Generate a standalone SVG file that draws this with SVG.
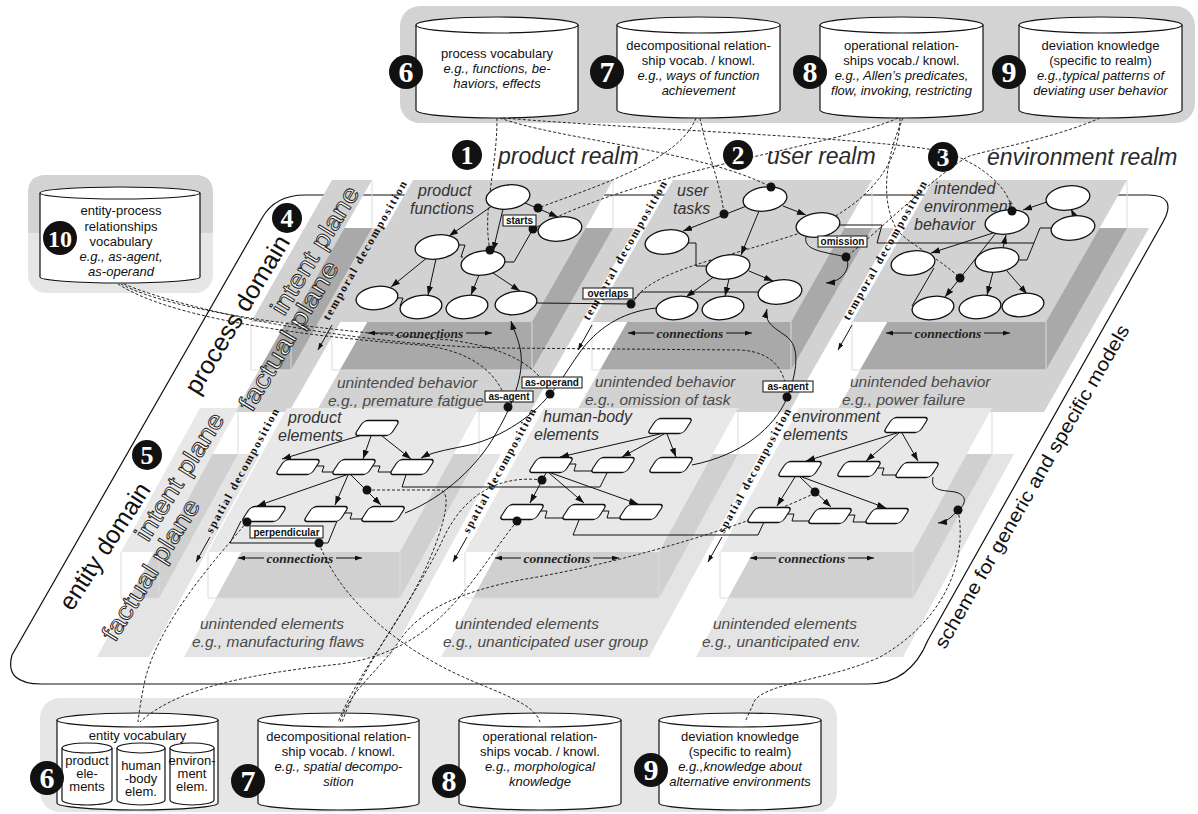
<svg xmlns="http://www.w3.org/2000/svg" width="1198" height="814" viewBox="0 0 1198 814">
<defs>
<style>
text{font-family:"Liberation Sans",Arial,sans-serif}
.ct{font-size:13px;fill:#111;text-anchor:middle}
.it{font-style:italic}
.cyl{fill:#fff;stroke:#111;stroke-width:1.2}
.bd{fill:#111}
.bn{font-family:"Liberation Serif",serif;font-weight:bold;fill:#fff;text-anchor:middle}
.realm{font-size:23px;font-style:italic;fill:#2a2a2a}
.pi{fill:#d2d2d2}
.pd{fill:#a9a9a9}
.ei{fill:#e8e8e8}
.ef{fill:#e4e4e4}
.edk{fill:#d0d0d0}
.bl{fill:none;stroke:#dcdcdc;stroke-width:1}
.sl{font-size:16px;font-style:italic;fill:#333}
.un{font-size:15.5px;font-style:italic;fill:#4a4a4a}
.td{font-family:"Liberation Serif",serif;font-weight:bold;font-size:11.5px;fill:#111}
.cn{font-family:"Liberation Serif",serif;font-weight:bold;font-style:italic;font-size:13.5px;fill:#222;text-anchor:middle}
.wl{font-size:25px;fill:#fff;stroke:#222;stroke-width:0.9}
.dom{font-size:25px;fill:#111}
.ov{fill:#fff;stroke:#111;stroke-width:1.3}
.bx{fill:#fff;stroke:#111;stroke-width:1.3}
.ln{fill:none;stroke:#111;stroke-width:1}
.ar{fill:none;stroke:#111;stroke-width:1;marker-end:url(#ah)}
.ca{fill:none;stroke:#111;stroke-width:1;marker-end:url(#sm)}
.dl{fill:none;stroke:#111;stroke-width:0.9;stroke-dasharray:3 2}
.dot{fill:#111}
.rb{fill:#fff;stroke:#111;stroke-width:1}
.rt{font-size:10px;font-weight:bold;fill:#111;text-anchor:middle}
</style>
<marker id="ah" viewBox="0 0 10 7" refX="10" refY="3.5" markerWidth="9" markerHeight="7" markerUnits="userSpaceOnUse" orient="auto"><path d="M0,0 L10,3.5 L0,7 z" fill="#111"/></marker>
<marker id="sm" viewBox="0 0 10 7" refX="10" refY="3.5" markerWidth="7" markerHeight="5" markerUnits="userSpaceOnUse" orient="auto"><path d="M0,0 L10,3.5 L0,7 z" fill="#111"/></marker>
</defs>

<!-- top knowledge bar -->
<g id="top-bar">
<rect x="400" y="6" width="795" height="117" rx="20" fill="#d3d3d3"/>
</g>
<g id="cyl-top-6">
<path class="cyl" d="M416,25 V110 A81,8 0 0 0 578,110 V25"/><ellipse class="cyl" cx="497" cy="25" rx="81" ry="8"/>
<text class="ct" x="497" y="58">process vocabulary</text>
<text class="ct it" x="497" y="73">e.g., functions, be-</text>
<text class="ct it" x="497" y="88">haviors, effects</text>
<circle class="bd" cx="406" cy="72" r="17"/><text class="bn" x="406" y="82" font-size="30">6</text>
</g>
<g id="cyl-top-7">
<path class="cyl" d="M617,25 V110 A81.5,8 0 0 0 780,110 V25"/><ellipse class="cyl" cx="698.5" cy="25" rx="81.5" ry="8"/>
<text class="ct" x="698.5" y="50">decompositional relation-</text>
<text class="ct" x="698.5" y="65">ship vocab. / knowl.</text>
<text class="ct it" x="698.5" y="80">e.g., ways of function</text>
<text class="ct it" x="698.5" y="95">achievement</text>
<circle class="bd" cx="607" cy="72" r="17"/><text class="bn" x="607" y="82" font-size="30">7</text>
</g>
<g id="cyl-top-8">
<path class="cyl" d="M820,25 V110 A81.5,8 0 0 0 983,110 V25"/><ellipse class="cyl" cx="901.5" cy="25" rx="81.5" ry="8"/>
<text class="ct" x="901.5" y="50">operational relation-</text>
<text class="ct" x="901.5" y="65">ships vocab./ knowl.</text>
<text class="ct it" x="901.5" y="80">e.g., Allen’s predicates,</text>
<text class="ct it" x="901.5" y="95">flow, invoking, restricting</text>
<circle class="bd" cx="810" cy="72" r="17"/><text class="bn" x="810" y="82" font-size="30">8</text>
</g>
<g id="cyl-top-9">
<path class="cyl" d="M1019,25 V110 A81.5,8 0 0 0 1182,110 V25"/><ellipse class="cyl" cx="1100.5" cy="25" rx="81.5" ry="8"/>
<text class="ct" x="1100.5" y="50">deviation knowledge</text>
<text class="ct" x="1100.5" y="65">(specific to realm)</text>
<text class="ct it" x="1100.5" y="80">e.g.,typical patterns of</text>
<text class="ct it" x="1100.5" y="95">deviating user behavior</text>
<circle class="bd" cx="1009" cy="72" r="17"/><text class="bn" x="1009" y="82" font-size="30">9</text>
</g>

<!-- bottom knowledge bar -->
<g id="bottom-bar">
<rect x="40" y="698" width="797" height="114" rx="20" fill="#e6e6e6"/>
</g>
<g id="cyl-bot-6">
<path class="cyl" d="M57,720 V803 A80.5,7 0 0 0 218,803 V720"/><ellipse class="cyl" cx="137.5" cy="720" rx="80.5" ry="7"/>
<text class="ct" x="137.5" y="740">entity vocabulary</text>
<path class="cyl" d="M62,748 V800 A25,5 0 0 0 112,800 V748"/><ellipse class="cyl" cx="87" cy="748" rx="25" ry="5"/>
<path class="cyl" d="M117,748 V800 A24,5 0 0 0 165,800 V748"/><ellipse class="cyl" cx="141" cy="748" rx="24" ry="5"/>
<path class="cyl" d="M170,748 V800 A22,5 0 0 0 214,800 V748"/><ellipse class="cyl" cx="192" cy="748" rx="22" ry="5"/>
<text class="ct" x="87" y="765" font-size="12">product</text><text class="ct" x="87" y="778" font-size="12">ele-</text><text class="ct" x="87" y="791" font-size="12">ments</text>
<text class="ct" x="141" y="770" font-size="12">human</text><text class="ct" x="141" y="783" font-size="12">-body</text><text class="ct" x="141" y="796" font-size="12">elem.</text>
<text class="ct" x="192" y="765" font-size="11.5">environ-</text><text class="ct" x="192" y="778" font-size="11.5">ment</text><text class="ct" x="192" y="791" font-size="11.5">elem.</text>
<circle class="bd" cx="47" cy="778" r="17"/><text class="bn" x="47" y="788" font-size="30">6</text>
</g>
<g id="cyl-bot-7">
<path class="cyl" d="M258,720 V803 A80.5,7 0 0 0 419,803 V720"/><ellipse class="cyl" cx="338.5" cy="720" rx="80.5" ry="7"/>
<text class="ct" x="338.5" y="741">decompositional relation-</text>
<text class="ct" x="338.5" y="756">ship vocab. / knowl.</text>
<text class="ct it" x="338.5" y="771">e.g., spatial decompo-</text>
<text class="ct it" x="338.5" y="786">sition</text>
<circle class="bd" cx="248" cy="781" r="17"/><text class="bn" x="248" y="791" font-size="30">7</text>
</g>
<g id="cyl-bot-8">
<path class="cyl" d="M459,720 V803 A81,7 0 0 0 621,803 V720"/><ellipse class="cyl" cx="540" cy="720" rx="81" ry="7"/>
<text class="ct" x="540" y="741">operational relation-</text>
<text class="ct" x="540" y="756">ships vocab. / knowl.</text>
<text class="ct it" x="540" y="771">e.g., morphological</text>
<text class="ct it" x="540" y="786">knowledge</text>
<circle class="bd" cx="449" cy="781" r="17"/><text class="bn" x="449" y="791" font-size="30">8</text>
</g>
<g id="cyl-bot-9">
<path class="cyl" d="M659,720 V803 A81,7 0 0 0 821,803 V720"/><ellipse class="cyl" cx="740" cy="720" rx="81" ry="7"/>
<text class="ct" x="740" y="741">deviation knowledge</text>
<text class="ct" x="740" y="756">(specific to realm)</text>
<text class="ct it" x="740" y="771">e.g.,knowledge about</text>
<text class="ct it" x="740" y="786">alternative environments</text>
<circle class="bd" cx="651" cy="770" r="17"/><text class="bn" x="651" y="780" font-size="30">9</text>
</g>

<!-- entity-process relationships vocabulary -->
<g id="cyl-10">
<rect x="28" y="175" width="185" height="118" rx="18" fill="#e6e6e6"/>
<path d="M28,233 V193 Q28,175 46,175 H195 Q213,175 213,193 V233 Z" fill="#d3d3d3"/>
<path class="cyl" d="M40,193 V277 A80,6 0 0 0 200,277 V193"/><ellipse class="cyl" cx="120" cy="193" rx="80" ry="6"/>
<text class="ct" x="121" y="215" font-size="13.5">entity-process</text>
<text class="ct" x="121" y="231" font-size="13.5">relationships</text>
<text class="ct" x="121" y="246" font-size="13.5">vocabulary</text>
<text class="ct it" x="121" y="261" font-size="13.5">e.g., as-agent,</text>
<text class="ct it" x="121" y="276" font-size="13.5">as-operand</text>
<circle class="bd" cx="60" cy="238" r="17"/><text class="bn" x="60" y="247" font-size="24">10</text>
</g>

<!-- scheme outline -->
<g id="scheme">
<path d="M305,195 L1148,195 Q1178,195 1163,222 L928,640 Q910,684 868,684 L42,684 Q4,684 12,655 L262,218 Q275,195 305,195 Z" fill="none" stroke="#111" stroke-width="1.2"/>
<text transform="translate(945,650) rotate(-60)" font-size="19" fill="#111" textLength="370" lengthAdjust="spacingAndGlyphs">scheme for generic and specific models</text>
</g>

<!-- process domain planes -->
<g id="process-domain">
<polygon class="pi" points="340,228 394,228 289,412 235,412"/>
<polygon class="pi" points="421,228 635,228 530,412 316,412"/>
<polygon class="pi" points="681,228 894,228 789,412 576,412"/>
<polygon class="pi" points="941,228 1149,228 1044,412 836,412"/>
<polygon class="pd" points="340,228 372,228 291,370 259,370"/>
<polygon class="pd" points="421,228 613,228 532,370 340,370"/>
<polygon class="pd" points="681,228 872,228 791,370 600,370"/>
<polygon class="pd" points="941,228 1127,228 1046,370 860,370"/>
<path class="bl" d="M251,322 V370 H291 V322 M372,180 V228 M332,322 V370 H532 V322 M613,180 V228 M592,322 V370 H791 V322 M872,180 V228 M852,322 V370 H1046 V322 M1127,180 V228"/>
<polygon class="pi" points="332,180 372,180 291,322 251,322"/>
<polygon class="pi" points="413,180 613,180 532,322 332,322"/>
<polygon class="pi" points="673,180 872,180 791,322 592,322"/>
<polygon class="pi" points="933,180 1127,180 1046,322 852,322"/>
</g>

<!-- entity domain planes -->
<g id="entity-domain">
<polygon class="ef" points="208,454 260,454 149,657 97,657"/>
<polygon class="ef" points="295,454 501,454 390,657 184,657"/>
<polygon class="ef" points="552,454 760,454 649,657 441,657"/>
<polygon class="ef" points="807,454 1014,454 903,657 696,657"/>
<polygon class="edk" points="208,454 238,454 159,598 129,598"/>
<polygon class="edk" points="295,454 479,454 400,598 216,598"/>
<polygon class="edk" points="552,454 738,454 659,598 473,598"/>
<polygon class="edk" points="807,454 992,454 913,598 728,598"/>
<path class="bl" d="M121,552 V598 H159 V552 M238,408 V454 M208,552 V598 H400 V552 M479,408 V454 M465,552 V598 H659 V552 M738,408 V454 M720,552 V598 H913 V552 M992,408 V454"/>
<polygon class="ei" points="200,408 238,408 159,552 121,552"/>
<polygon class="ei" points="287,408 479,408 400,552 208,552"/>
<polygon class="ei" points="544,408 738,408 659,552 465,552"/>
<polygon class="ei" points="799,408 992,408 913,552 720,552"/>
</g>

<!-- domain / plane labels -->
<g id="labels">
<text class="dom" transform="translate(198,396) rotate(-59)" textLength="180" lengthAdjust="spacingAndGlyphs">process domain</text>
<circle class="bd" cx="287" cy="218" r="15"/><text class="bn" x="287" y="227" font-size="26">4</text>
<text class="dom" transform="translate(72,612) rotate(-57)" textLength="146" lengthAdjust="spacingAndGlyphs">entity domain</text>
<circle class="bd" cx="147" cy="455" r="15"/><text class="bn" x="147" y="464" font-size="26">5</text>
<text class="wl" transform="translate(252,413) rotate(-59)" textLength="170" lengthAdjust="spacingAndGlyphs">factual plane</text>
<text class="wl" transform="translate(284,317) rotate(-58.5)" textLength="146" lengthAdjust="spacingAndGlyphs">intent plane</text>
<text class="wl" transform="translate(115,643) rotate(-58)" textLength="162" lengthAdjust="spacingAndGlyphs">factual plane</text>
<text class="wl" transform="translate(148,543) rotate(-58)" textLength="146" lengthAdjust="spacingAndGlyphs">intent plane</text>

<circle class="bd" cx="467" cy="155" r="15"/><text class="bn" x="467" y="164" font-size="26">1</text>
<text class="realm" x="498" y="164">product realm</text>
<circle class="bd" cx="738" cy="155" r="15"/><text class="bn" x="738" y="164" font-size="26">2</text>
<text class="realm" x="767" y="164">user realm</text>
<circle class="bd" cx="943" cy="157" r="15"/><text class="bn" x="943" y="166" font-size="26">3</text>
<text class="realm" x="987" y="165">environment realm</text>

<text class="sl" x="418" y="196">product</text><text class="sl" x="410" y="214">functions</text>
<text class="sl" x="677" y="196">user</text><text class="sl" x="673" y="214">tasks</text>
<text class="sl" x="934" y="194">intended</text><text class="sl" x="924" y="212">environment</text><text class="sl" x="914" y="230">behavior</text>
<text class="sl" x="288" y="423">product</text><text class="sl" x="278" y="441">elements</text>
<text class="sl" x="543" y="422">human-body</text><text class="sl" x="534" y="440">elements</text>
<text class="sl" x="792" y="422">environment</text><text class="sl" x="783" y="440">elements</text>

<text class="un" x="337" y="388">unintended behavior</text><text class="un" x="328" y="406">e.g., premature fatigue</text>
<text class="un" x="595" y="387">unintended behavior</text><text class="un" x="585" y="405">e.g., omission of task</text>
<text class="un" x="850" y="387">unintended behavior</text><text class="un" x="842" y="405">e.g., power failure</text>
<text class="un" x="200" y="629">unintended elements</text><text class="un" x="192" y="647">e.g., manufacturing flaws</text>
<text class="un" x="455" y="629">unintended elements</text><text class="un" x="443" y="647">e.g., unanticipated user group</text>
<text class="un" x="713" y="629">unintended elements</text><text class="un" x="702" y="647">e.g., unanticipated env.</text>

<text class="td" transform="translate(329,321) rotate(-60.3)" textLength="158" lengthAdjust="spacing">temporal decomposition</text>
<text class="td" transform="translate(589,321) rotate(-60.3)" textLength="158" lengthAdjust="spacing">temporal decomposition</text>
<text class="td" transform="translate(849,321) rotate(-60.3)" textLength="158" lengthAdjust="spacing">temporal decomposition</text>
<text class="td" transform="translate(212,534) rotate(-61.3)" textLength="140" lengthAdjust="spacing">spatial decomposition</text>
<text class="td" transform="translate(469,534) rotate(-61.3)" textLength="140" lengthAdjust="spacing">spatial decomposition</text>
<text class="td" transform="translate(724,534) rotate(-61.3)" textLength="140" lengthAdjust="spacing">spatial decomposition</text>

<text class="cn" x="430" y="337.5">connections</text>
<text class="cn" x="690" y="337.5">connections</text>
<text class="cn" x="948" y="337.5">connections</text>
<text class="cn" x="300" y="562.5">connections</text>
<text class="cn" x="557" y="562.5">connections</text>
<text class="cn" x="812" y="562.5">connections</text>
</g>

<!-- connectors -->
<g id="connectors">
<path class="ca" d="M332,325 L318,350"/><path class="ca" d="M592,325 L578,350"/><path class="ca" d="M852,325 L838,350"/>
<path class="ca" d="M210,537 L196,562"/><path class="ca" d="M467,537 L453,562"/><path class="ca" d="M722,537 L708,562"/>
<path class="ca" d="M394,333 H368"/><path class="ca" d="M466,333 H492"/>
<path class="ca" d="M654,333 H628"/><path class="ca" d="M726,333 H752"/>
<path class="ca" d="M912,333 H886"/><path class="ca" d="M984,333 H1010"/>
<path class="ca" d="M264,558 H238"/><path class="ca" d="M336,558 H362"/>
<path class="ca" d="M521,558 H495"/><path class="ca" d="M593,558 H619"/>
<path class="ca" d="M776,558 H750"/><path class="ca" d="M848,558 H874"/>

<path class="ar" d="M525,203 L558,217"/>
<path class="ar" d="M492,206 L449,236"/>
<path class="ar" d="M503,209 L493,251"/>
<path class="ar" d="M428,257 L391,287"/>
<path class="ar" d="M436,259 L428,295"/>
<path class="ar" d="M479,275 L471,295"/>
<path class="ar" d="M493,273 L520,291"/>
<path class="ar" d="M783,206 L806,215"/>
<path class="ar" d="M749,205 L683,231"/>
<path class="ar" d="M759,211 L741,255"/>
<path class="ar" d="M749,271 L773,281"/>
<path class="ar" d="M715,276 L686,297"/>
<path class="ar" d="M729,279 L725,296"/>
<path class="ar" d="M1047,202 L1023,210"/>
<path class="ar" d="M1075,217 L1071,209"/>
<path class="ar" d="M993,233 L931,253"/>
<path class="ar" d="M1003,248 L1006,235"/>
<path class="ar" d="M996,233 L945,297"/>
<path class="ar" d="M993,272 L987,295"/>
<path class="ar" d="M1007,271 L1027,294"/>
<path class="ln" d="M458,245 L465,245 L461,257 L463,257"/>
<path class="ln" d="M398,298 L403,298 L400,306 L402,306"/>
<path class="ln" d="M504,262 L514,262 L533,229"/>
<path class="ln" d="M537,303 L631,304 L641,292 L758,292"/>
<path class="ln" d="M688,243 L696,243 L696,266 L707,266"/>
<path class="ln" d="M840,225 L882,225 L877,243 L1034,243"/>
<path class="ln" d="M1018,260 L1027,260 L1040,228 L1052,228"/>
<path class="ln" d="M934,268 L912,306"/>
<path class="ar" d="M362,435 L282,459"/>
<path class="ar" d="M371,436 L363,459"/>
<path class="ar" d="M382,436 L411,459"/>
<path class="ar" d="M346,475 L257,506"/>
<path class="ar" d="M348,475 L335,505"/>
<path class="ar" d="M351,475 L381,505"/>
<path class="ar" d="M660,434 L560,457"/>
<path class="ar" d="M664,434 L622,457"/>
<path class="ar" d="M667,434 L676,457"/>
<path class="ar" d="M546,473 L530,503"/>
<path class="ar" d="M549,473 L584,503"/>
<path class="ar" d="M551,473 L638,504"/>
<path class="ar" d="M897,433 L806,461"/>
<path class="ar" d="M899,433 L866,461"/>
<path class="ar" d="M902,433 L918,461"/>
<path class="ar" d="M795,477 L777,506"/>
<path class="ar" d="M800,477 L831,507"/>
<path class="ar" d="M802,477 L886,508"/>
<path class="ln" d="M316,466 L324,466 L322,472 L334,472"/>
<path class="ln" d="M372,466 L380,466 L378,472 L391,472"/>
<path class="ln" d="M344,513 L352,513 L350,519 L362,519"/>
<path class="ln" d="M406,475 L402,487 L600,487 L607,473"/>
<path class="ln" d="M241,521 L230,543 L328,543 L337,521"/>
<path class="ln" d="M569,464 L576,464 L574,471 L592,471"/>
<path class="ln" d="M540,511 L547,511 L545,518 L563,518"/>
<path class="ln" d="M602,511 L609,511 L607,518 L620,518"/>
<path class="ln" d="M579,520 L573,535 L758,535 L764,522"/>
<path class="ln" d="M877,468 L884,468 L882,475 L896,475"/>
<path class="ln" d="M787,514 L794,514 L792,521 L809,521"/>
<path class="ln" d="M848,515 L855,515 L853,522 L866,522"/>
<path class="ar" d="M405,513 C445,497 478,465 495,435 C510,410 526,375 520,348 C517,335 513,328 511,321"/>
<path class="ar" d="M656,308 C620,312 596,330 580,352 C566,372 558,386 550,394 C530,420 495,440 465,446 C445,450 430,453 421,458"/>
<path class="ar" d="M692,465 C742,455 774,428 787,398 C797,372 801,347 786,336 C773,327 764,322 767,309"/>
<path class="ar" d="M806,237 C803,251 826,252 846,257 C852,268 842,282 826,283"/>
<path class="ar" d="M933,477 C930,492 944,490 955,492 C968,495 966,505 958,510 C951,518 946,522 938,523"/>
<path class="dl" d="M497,118 C497,170 482,210 490,250"/>
<path class="dl" d="M500,118 C560,140 700,150 771,187"/>
<path class="dl" d="M503,118 C650,130 880,138 945,152 C985,165 1010,190 1012,211"/>
<path class="dl" d="M696,118 C680,160 600,185 538,208"/>
<path class="dl" d="M700,118 C706,150 720,180 724,214"/>
<path class="dl" d="M898,118 C840,145 640,170 533,229"/>
<path class="dl" d="M900,118 C900,170 860,210 800,233 C720,260 650,270 631,304"/>
<path class="dl" d="M903,118 C885,160 880,200 897,230 C910,245 935,255 960,278"/>
<path class="dl" d="M1100,118 C1050,140 985,150 967,157 C930,180 880,230 846,257"/>
<path class="dl" d="M118,284 C170,318 300,336 420,345 C470,350 500,372 508,407"/>
<path class="dl" d="M121,284 C175,313 320,330 450,340 C510,348 540,368 550,394"/>
<path class="dl" d="M124,284 C185,310 350,345 500,348 L740,350 C775,352 786,372 787,397"/>
<path class="dl" d="M247,522 C215,560 160,620 145,680 C142,695 140,705 138,722"/>
<path class="dl" d="M517,521 C470,580 440,650 340,664 C240,675 175,690 140,722"/>
<path class="dl" d="M542,480 C510,476 470,485 445,535 C415,600 365,660 342,722"/>
<path class="dl" d="M367,490 L440,490 C455,492 440,540 420,580 C395,630 360,670 338,722"/>
<path class="dl" d="M815,493 C760,520 640,560 520,580 C460,592 420,610 400,640 C380,670 350,690 340,722"/>
<path class="dl" d="M319,543 C340,600 400,650 470,680 C505,695 535,705 540,722"/>
<path class="dl" d="M958,510 C968,560 945,620 880,657 C830,680 770,682 755,700 L745,722"/>
</g>

<!-- process nodes -->
<g id="p1"><ellipse class="ov" cx="508" cy="197" rx="22" ry="12" transform="rotate(-8 508 197)"/></g>
<g id="p2"><ellipse class="ov" cx="560" cy="229" rx="22" ry="12" transform="rotate(-8 560 229)"/></g>
<g id="p3"><ellipse class="ov" cx="437" cy="247" rx="22" ry="12" transform="rotate(-8 437 247)"/></g>
<g id="p4"><ellipse class="ov" cx="483" cy="263" rx="22" ry="12" transform="rotate(-8 483 263)"/></g>
<g id="p5"><ellipse class="ov" cx="377" cy="298" rx="21" ry="11.5" transform="rotate(-8 377 298)"/></g>
<g id="p6"><ellipse class="ov" cx="421" cy="307" rx="21" ry="11.5" transform="rotate(-8 421 307)"/></g>
<g id="p7"><ellipse class="ov" cx="467" cy="307" rx="21" ry="11.5" transform="rotate(-8 467 307)"/></g>
<g id="p8"><ellipse class="ov" cx="516" cy="303" rx="21" ry="11.5" transform="rotate(-8 516 303)"/></g>
<g id="u1"><ellipse class="ov" cx="765" cy="199" rx="22" ry="12" transform="rotate(-8 765 199)"/></g>
<g id="u2"><ellipse class="ov" cx="818" cy="225" rx="22" ry="12" transform="rotate(-8 818 225)"/></g>
<g id="u3"><ellipse class="ov" cx="667" cy="242" rx="22" ry="12" transform="rotate(-8 667 242)"/></g>
<g id="u4"><ellipse class="ov" cx="728" cy="267" rx="22" ry="12" transform="rotate(-8 728 267)"/></g>
<g id="u5"><ellipse class="ov" cx="780" cy="292" rx="22" ry="12" transform="rotate(-8 780 292)"/></g>
<g id="u6"><ellipse class="ov" cx="677" cy="308" rx="21" ry="11.5" transform="rotate(-8 677 308)"/></g>
<g id="u7"><ellipse class="ov" cx="723" cy="308" rx="21" ry="11.5" transform="rotate(-8 723 308)"/></g>
<g id="e1"><ellipse class="ov" cx="1068" cy="198" rx="22" ry="12" transform="rotate(-8 1068 198)"/></g>
<g id="e2"><ellipse class="ov" cx="1007" cy="222" rx="22" ry="12" transform="rotate(-8 1007 222)"/></g>
<g id="e3"><ellipse class="ov" cx="1073" cy="228" rx="22" ry="12" transform="rotate(-8 1073 228)"/></g>
<g id="e4"><ellipse class="ov" cx="913" cy="263" rx="22" ry="12" transform="rotate(-8 913 263)"/></g>
<g id="e5"><ellipse class="ov" cx="997" cy="260" rx="22" ry="12" transform="rotate(-8 997 260)"/></g>
<g id="e6"><ellipse class="ov" cx="933" cy="308" rx="21" ry="11.5" transform="rotate(-8 933 308)"/></g>
<g id="e7"><ellipse class="ov" cx="980" cy="307" rx="21" ry="11.5" transform="rotate(-8 980 307)"/></g>
<g id="e8"><ellipse class="ov" cx="1023" cy="305" rx="21" ry="11.5" transform="rotate(-8 1023 305)"/></g>

<!-- entity nodes -->
<g id="pe1"><rect class="bx" x="-18" y="-7.5" width="36" height="15" rx="4" transform="translate(377,428) skewX(-33)"/></g>
<g id="pe2"><rect class="bx" x="-18" y="-7.5" width="36" height="15" rx="4" transform="translate(298,467) skewX(-33)"/></g>
<g id="pe3"><rect class="bx" x="-18" y="-7.5" width="36" height="15" rx="4" transform="translate(354,467) skewX(-33)"/></g>
<g id="pe4"><rect class="bx" x="-18" y="-7.5" width="36" height="15" rx="4" transform="translate(412,467) skewX(-33)"/></g>
<g id="pe5"><rect class="bx" x="-18" y="-7.5" width="36" height="15" rx="4" transform="translate(264,514) skewX(-33)"/></g>
<g id="pe6"><rect class="bx" x="-18" y="-7.5" width="36" height="15" rx="4" transform="translate(326,514) skewX(-33)"/></g>
<g id="pe7"><rect class="bx" x="-18" y="-7.5" width="36" height="15" rx="4" transform="translate(383,514) skewX(-33)"/></g>
<g id="hb1"><rect class="bx" x="-18" y="-7.5" width="36" height="15" rx="4" transform="translate(670,426) skewX(-33)"/></g>
<g id="hb2"><rect class="bx" x="-18" y="-7.5" width="36" height="15" rx="4" transform="translate(551,465) skewX(-33)"/></g>
<g id="hb3"><rect class="bx" x="-18" y="-7.5" width="36" height="15" rx="4" transform="translate(613,465) skewX(-33)"/></g>
<g id="hb4"><rect class="bx" x="-18" y="-7.5" width="36" height="15" rx="4" transform="translate(671,465) skewX(-33)"/></g>
<g id="hb5"><rect class="bx" x="-18" y="-7.5" width="36" height="15" rx="4" transform="translate(522,512) skewX(-33)"/></g>
<g id="hb6"><rect class="bx" x="-18" y="-7.5" width="36" height="15" rx="4" transform="translate(584,512) skewX(-33)"/></g>
<g id="hb7"><rect class="bx" x="-18" y="-7.5" width="36" height="15" rx="4" transform="translate(641,512) skewX(-33)"/></g>
<g id="ee1"><rect class="bx" x="-18" y="-7.5" width="36" height="15" rx="4" transform="translate(906,425) skewX(-33)"/></g>
<g id="ee2"><rect class="bx" x="-18" y="-7.5" width="36" height="15" rx="4" transform="translate(800,469) skewX(-33)"/></g>
<g id="ee3"><rect class="bx" x="-18" y="-7.5" width="36" height="15" rx="4" transform="translate(859,469) skewX(-33)"/></g>
<g id="ee4"><rect class="bx" x="-18" y="-7.5" width="36" height="15" rx="4" transform="translate(917,470) skewX(-33)"/></g>
<g id="ee5"><rect class="bx" x="-18" y="-7.5" width="36" height="15" rx="4" transform="translate(769,515) skewX(-33)"/></g>
<g id="ee6"><rect class="bx" x="-18" y="-7.5" width="36" height="15" rx="4" transform="translate(830,516) skewX(-33)"/></g>
<g id="ee7"><rect class="bx" x="-18" y="-7.5" width="36" height="15" rx="4" transform="translate(887,516) skewX(-33)"/></g>

<!-- relation dots and labels -->
<g id="relations">
<circle class="dot" cx="538" cy="208" r="4.5"/>
<circle class="dot" cx="533" cy="229" r="4.5"/>
<circle class="dot" cx="490" cy="250" r="4.5"/>
<circle class="dot" cx="631" cy="304" r="4.5"/>
<circle class="dot" cx="771" cy="187" r="4.5"/>
<circle class="dot" cx="724" cy="214" r="4.5"/>
<circle class="dot" cx="846" cy="257" r="4.5"/>
<circle class="dot" cx="1012" cy="211" r="4.5"/>
<circle class="dot" cx="960" cy="278" r="4.5"/>
<circle class="dot" cx="508" cy="407" r="4.5"/>
<circle class="dot" cx="550" cy="394" r="4.5"/>
<circle class="dot" cx="787" cy="397" r="4.5"/>
<circle class="dot" cx="367" cy="490" r="4.5"/>
<circle class="dot" cx="247" cy="522" r="4.5"/>
<circle class="dot" cx="319" cy="543" r="4.5"/>
<circle class="dot" cx="542" cy="480" r="4.5"/>
<circle class="dot" cx="517" cy="521" r="4.5"/>
<circle class="dot" cx="815" cy="492" r="4.5"/>
<circle class="dot" cx="958" cy="510" r="4.5"/>
<rect class="rb" x="503" y="215" width="33" height="11"/><text class="rt" x="519.5" y="224">starts</text>
<rect class="rb" x="583" y="288" width="50" height="11"/><text class="rt" x="608" y="297">overlaps</text>
<rect class="rb" x="818" y="236" width="49" height="11"/><text class="rt" x="842.5" y="245">omission</text>
<rect class="rb" x="522" y="377" width="60" height="11"/><text class="rt" x="552" y="386">as-operand</text>
<rect class="rb" x="485" y="391" width="48" height="11"/><text class="rt" x="509" y="400">as-agent</text>
<rect class="rb" x="763" y="381" width="50" height="11"/><text class="rt" x="788" y="390">as-agent</text>
<rect class="rb" x="250" y="526" width="73" height="12"/><text class="rt" x="286.5" y="535.5">perpendicular</text>
</g>
</svg>
